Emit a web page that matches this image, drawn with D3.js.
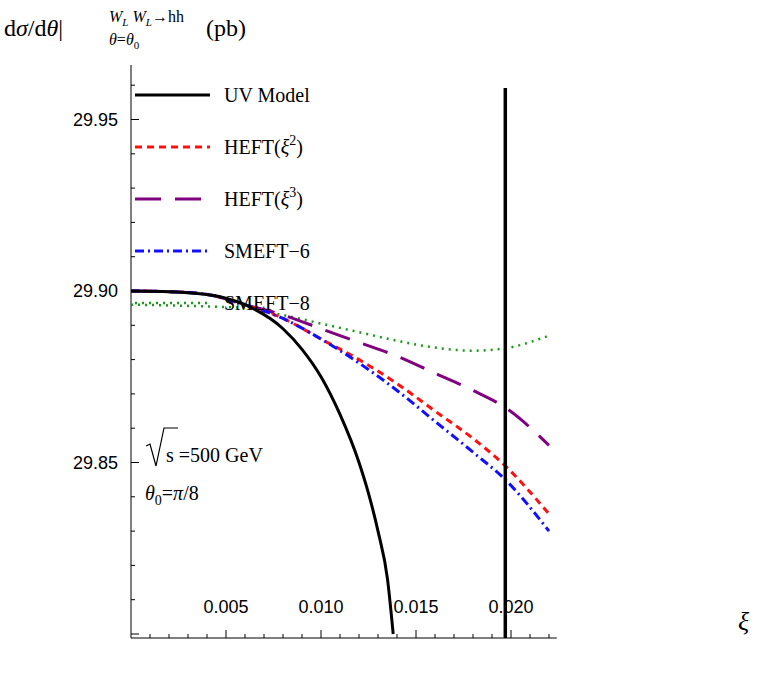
<!DOCTYPE html>
<html><head><meta charset="utf-8">
<script src="https://cdn.jsdelivr.net/npm/d3@7"></script>
<style>body{margin:0;background:#fff}</style>
</head><body>
<script>
// data
const xs      = [0, 0.002, 0.004, 0.006, 0.008, 0.010, 0.012, 0.014, 0.016, 0.018, 0.0197, 0.022];
const uvX     = [0, 0.002, 0.004, 0.006, 0.008, 0.009, 0.010, 0.011, 0.012, 0.0125, 0.013, 0.0135, 0.0138];
const uvY     = [29.900, 29.8998, 29.899, 29.896, 29.889, 29.883, 29.875, 29.864, 29.850, 29.841, 29.830, 29.816, 29.8];
const heft2   = [29.900, 29.8998, 29.899, 29.896, 29.892, 29.886, 29.880, 29.873, 29.865, 29.857, 29.849, 29.835];
const heft3   = [29.900, 29.8998, 29.899, 29.896, 29.893, 29.889, 29.885, 29.881, 29.876, 29.871, 29.866, 29.855];
const smeft6  = [29.900, 29.8998, 29.899, 29.896, 29.892, 29.886, 29.879, 29.871, 29.862, 29.853, 29.845, 29.830];
const smeft8  = [29.896, 29.8958, 29.8955, 29.895, 29.893, 29.8905, 29.888, 29.8855, 29.8835, 29.8826, 29.8833, 29.887];
const xTicks  = [0.005, 0.010, 0.015, 0.020];
const yTicks  = [29.85, 29.90, 29.95];
const vLine   = 0.0197;

const W = 757, H = 676;
const svg = d3.select("body").append("svg").attr("width", W).attr("height", H);
const x = d3.scaleLinear().domain([0, 0.005]).range([131, 226]);
const y = d3.scaleLinear().domain([29.90, 29.85]).range([291, 462.5]);
const xMax = 0.0222, yTop = y.invert(65);

// axes
const gx = svg.append("g").attr("transform", "translate(0," + 638 + ")");
gx.append("line").attr("x1", 131).attr("x2", x(xMax) + 4).attr("stroke", "#000");
d3.range(1, 23).forEach(i => {
	const v = i * 0.001, major = i % 5 == 0;
	gx.append("line").attr("x1", x(v)).attr("x2", x(v)).attr("y1", 0).attr("y2", major ? -8 : -4).attr("stroke", "#000");
});
gx.selectAll("text").data(xTicks).join("text")
	.attr("x", d => x(d)).attr("y", -25).attr("text-anchor", "middle")
	.style("font", "18px 'Liberation Sans'").text(d => d3.format(".3f")(d));

const gy = svg.append("g");
gy.append("line").attr("x1", 131).attr("x2", 131).attr("y1", 638).attr("y2", 65).attr("stroke", "#000");
d3.range(0, 17).forEach(i => {
	const v = 29.80 + i * 0.01;
	if (v > yTop) return;
	const major = i % 5 == 0;
	gy.append("line").attr("x1", 131).attr("x2", major ? 139 : 135).attr("y1", y(v)).attr("y2", y(v)).attr("stroke", "#000");
});
gy.selectAll("text").data(yTicks).join("text")
	.attr("x", 118).attr("y", d => y(d) + 6).attr("text-anchor", "end")
	.style("font", "18px 'Liberation Sans'").text(d => d3.format(".2f")(d));

// curves
svg.append("clipPath").attr("id", "c").append("rect")
	.attr("x", 131).attr("y", 60).attr("width", 600).attr("height", 578);
const line = d3.line().curve(d3.curveMonotoneX);
const plot = svg.append("g").attr("clip-path", "url(#c)");
function curve(px, py, col, dash, w) {
	plot.append("path").attr("d", line(px.map((d, i) => [x(d), y(py[i])])))
		.attr("fill", "none").attr("stroke", col).attr("stroke-width", w).attr("stroke-dasharray", dash);
}
curve(xs, smeft8, "#1a9a1a", "2,5", 2.5);
curve(xs, heft3, "#800080", "26,14", 3);
curve(xs, heft2, "#ff1010", "7,5", 3);
curve(xs, smeft6, "#1010ff", "9,4,2,4", 3);
curve(uvX, uvY, "#000", null, 3);

svg.append("line").attr("x1", x(vLine)).attr("x2", x(vLine)).attr("y1", 88).attr("y2", 638)
	.attr("stroke", "#000").attr("stroke-width", 3.5);

// legend
const leg = [
	["UV Model", null, "#000", null, 3],
	["HEFT(ξ", "2", "#ff1010", "7,5", 3],
	["HEFT(ξ", "3", "#800080", "26,14", 3],
	["SMEFT−6", null, "#1010ff", "9,4,2,4", 3],
	["SMEFT−8", null, "#1a9a1a", "2,5", 2.5]
];
leg.forEach((d, i) => {
	const ly = 95 + i * 52;
	svg.append("line").attr("x1", 135).attr("x2", 210).attr("y1", ly).attr("y2", ly)
		.attr("stroke", d[2]).attr("stroke-width", d[4]).attr("stroke-dasharray", d[3]);
	const t = svg.append("text").attr("x", 224).attr("y", ly + 7).style("font", "20px 'Liberation Serif'");
	if (d[1]) {
		t.append("tspan").text("HEFT(");
		t.append("tspan").style("font-style", "italic").text("ξ");
		t.append("tspan").attr("dy", -9).style("font-size", "14px").text(d[1]);
		t.append("tspan").attr("dy", 9).text(")");
	} else t.text(d[0]);
});

// annotations
const serif = "20px 'Liberation Serif'";
svg.append("path").attr("d", "M146,446 l4,-2 l6,22 l8,-38 h14").attr("fill", "none").attr("stroke", "#000").attr("stroke-width", 1.2);
svg.append("text").attr("x", 166).attr("y", 462).style("font", serif).text("s =500 GeV");
const th = svg.append("text").attr("x", 145).attr("y", 500).style("font", serif);
th.append("tspan").style("font-style", "italic").text("θ");
th.append("tspan").attr("dy", 5).style("font-size", "14px").text("0");
th.append("tspan").attr("dy", -5).text("=");
th.append("tspan").style("font-style", "italic").text("π");
th.append("tspan").text("/8");

svg.append("text").attr("x", 738).attr("y", 630).style("font", "italic 26px 'Liberation Serif'").text("ξ");

const t = svg.append("text").attr("x", 4).attr("y", 36).style("font", "24px 'Liberation Serif'");
t.append("tspan").text("d");
t.append("tspan").style("font-style", "italic").text("σ");
t.append("tspan").text("/d");
t.append("tspan").style("font-style", "italic").text("θ");
t.append("tspan").text("|");
svg.append("text").attr("x", 109).attr("y", 22).style("font", "italic 16px 'Liberation Serif'")
	.html("W<tspan dy='4' font-size='11'>L</tspan><tspan dy='-4'> W</tspan><tspan dy='4' font-size='11'>L</tspan><tspan dy='-4' font-style='normal'>→hh</tspan>");
svg.append("text").attr("x", 109).attr("y", 45).style("font", "italic 16px 'Liberation Serif'")
	.html("θ<tspan font-style='normal'>=</tspan>θ<tspan dy='4' font-size='11' font-style='normal'>0</tspan>");
svg.append("text").attr("x", 206).attr("y", 36).style("font", "24px 'Liberation Serif'").text("(pb)");
</script>
</body></html>
